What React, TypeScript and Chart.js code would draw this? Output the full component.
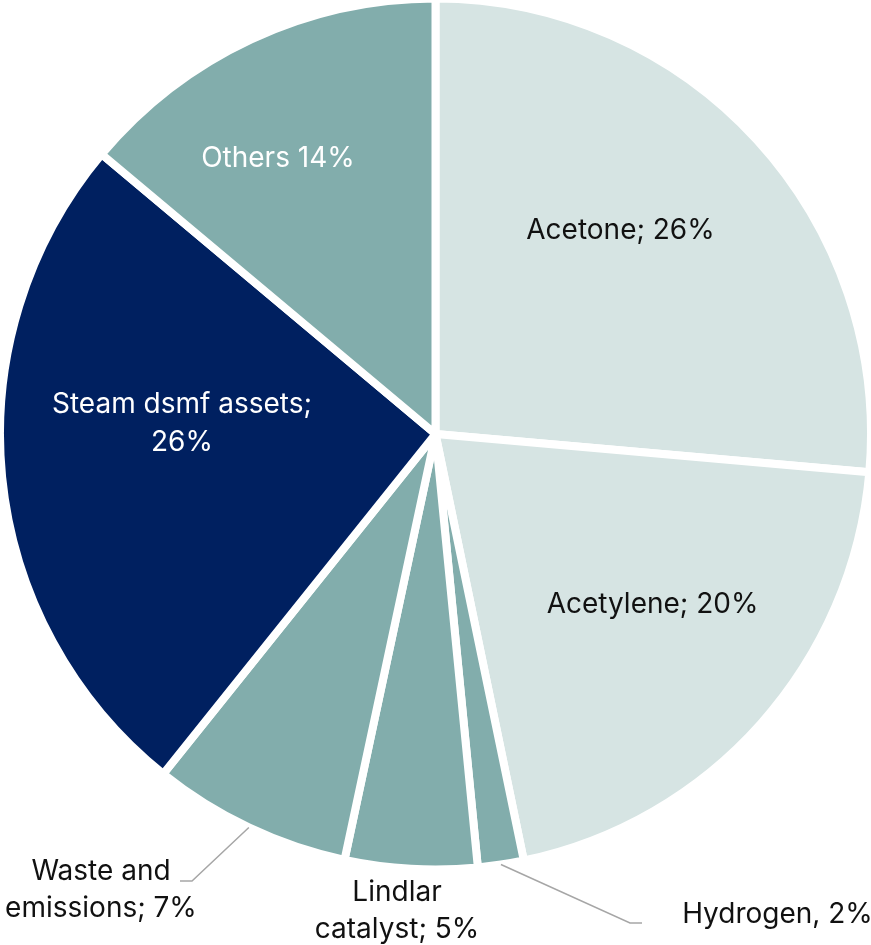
import { useEffect, useRef } from "react";
import { Chart, registerables } from "chart.js";

Chart.register(...registerables);

const categories = [
  "Acetone",
  "Acetylene",
  "Hydrogen",
  "Lindlar catalyst",
  "Waste and emissions",
  "Steam dsmf assets",
  "Others",
];
const shares = [26.4, 20.35, 1.7, 4.9, 7.4, 25.35, 13.9];
const labelLines = [
  ["Acetone; 26%"],
  ["Acetylene; 20%"],
  ["Hydrogen, 2%"],
  ["Lindlar", "catalyst; 5%"],
  ["Waste and", "emissions; 7%"],
  ["Steam dsmf assets;", "26%"],
  ["Others 14%"],
];

const sliceColors = ["#D6E4E3", "#D6E4E3", "#82ADAC", "#82ADAC", "#82ADAC", "#002060", "#82ADAC"];
const labelColors = ["#111111", "#111111", "#111111", "#111111", "#111111", "#FFFFFF", "#FFFFFF"];
// label block centre, as fractions of the pie radius relative to the pie centre
const labelOffsets: [number, number][] = [
  [0.4248, -0.4719],
  [0.4983, 0.3869],
  [0.7853, 1.0987],
  [-0.0884, 1.0918],
  [-0.7681, 1.0425],
  [-0.5821, -0.0276],
  [-0.3617, -0.6372],
];
// leader lines: elbow point and end x (fractions of radius), null = none
const leaders: ([number, number, number] | null)[] = [
  null,
  null,
  [0.4466, 1.1228, 0.4742],
  null,
  [-0.5591, 1.0264, -0.5867],
  null,
  null,
];

const FONT_SIZE = 28;
const LINE_H = 37.5;
const CAP_H = 20.5;

const labelPlugin = {
  id: "sliceLabels",
  afterDatasetsDraw(chart: any) {
    const ctx = chart.ctx as CanvasRenderingContext2D;
    const meta = chart.getDatasetMeta(0);
    ctx.save();
    meta.data.forEach((arc: any, i: number) => {
      const p = arc.getProps(["x", "y", "startAngle", "endAngle", "outerRadius"], true);
      const R = p.outerRadius;
      const ld = leaders[i];
      if (ld) {
        const mid = (p.startAngle + p.endAngle) / 2;
        const sx = p.x + Math.cos(mid) * R;
        const sy = p.y + Math.sin(mid) * R;
        ctx.beginPath();
        ctx.strokeStyle = "#A6A6A6";
        ctx.lineWidth = 1.5;
        ctx.moveTo(sx, sy);
        ctx.lineTo(p.x + ld[0] * R, p.y + ld[1] * R);
        ctx.lineTo(p.x + ld[2] * R, p.y + ld[1] * R);
        ctx.stroke();
      }
      const [fx, fy] = labelOffsets[i];
      const cx = p.x + fx * R;
      const cy = p.y + fy * R;
      const lines = labelLines[i];
      ctx.font = `${FONT_SIZE}px Inter, Lato, sans-serif`;
      ctx.fillStyle = labelColors[i];
      ctx.textAlign = "center";
      ctx.textBaseline = "alphabetic";
      const first = cy - ((lines.length - 1) * LINE_H) / 2 + CAP_H / 2;
      lines.forEach((t, k) => {
        ctx.fillText(t, cx, first + k * LINE_H);
      });
    });
    ctx.restore();
  },
};

export default function App() {
  const ref = useRef<HTMLCanvasElement | null>(null);
  useEffect(() => {
    if (!ref.current) return;
    const chart = new Chart(ref.current, {
      type: "pie",
      data: {
        labels: categories,
        datasets: [
          {
            data: shares,
            backgroundColor: sliceColors,
            borderColor: "#FFFFFF",
            borderWidth: 8,
          },
        ],
      },
      options: {
        animation: false,
        responsive: false,
        radius: 435.5,
        layout: { padding: { left: 0, right: 0, top: 0, bottom: 77 } },
        plugins: {
          legend: { display: false },
          tooltip: { enabled: false },
        },
      } as any,
      plugins: [labelPlugin],
    });
    return () => chart.destroy();
  }, []);
  return (
    <div style={{ position: "absolute", left: 0, top: 0, width: 871, height: 945, background: "#fff" }}>
      <canvas ref={ref} width={871} height={945} style={{ width: 871, height: 945, display: "block" }} />
    </div>
  );
}
